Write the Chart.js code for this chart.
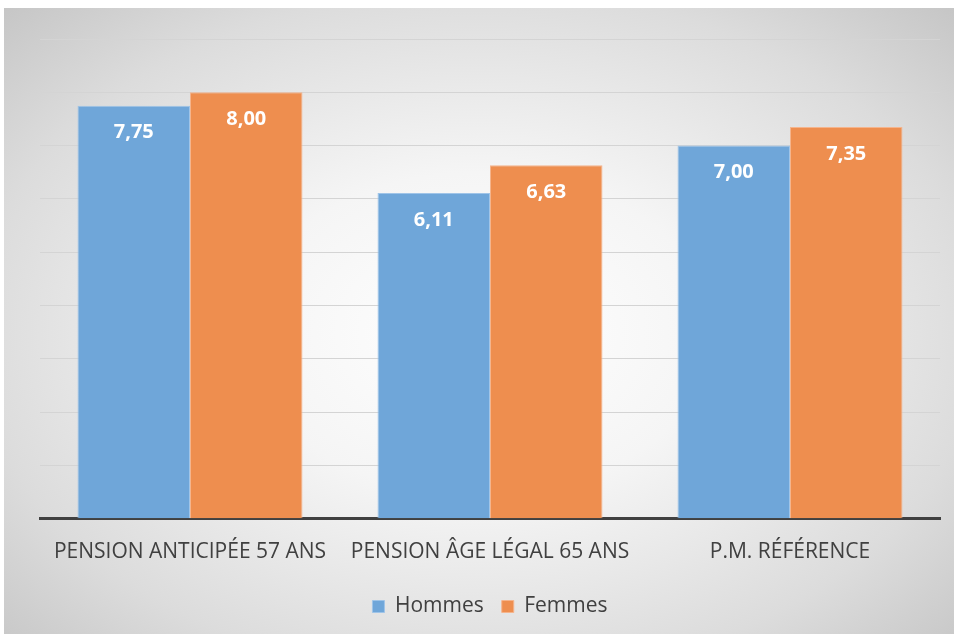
<html>
  <head>
    <meta charset="utf-8">
    <style>
      body { margin: 0; background: #fff; }
      #box {
        position: absolute; left: 4px; top: 8px; width: 950px; height: 626px;
        background: radial-gradient(ellipse farthest-corner at 50% 52%, #ffffff 0%, #f5f5f5 35%, #dcdcdc 75%, #c6c6c6 100%);
      }
    </style>
  </head>

  <body>
    <div id="box"><canvas id="myChart" width="950" height="626"></canvas></div>

    <script src="https://cdn.jsdelivr.net/npm/chart.js@4/dist/chart.umd.min.js"></script>
    <script>
      const categories = ['PENSION ANTICIPÉE 57 ANS', 'PENSION ÂGE LÉGAL 65 ANS', 'P.M. RÉFÉRENCE']
      const hommes = [7.75, 6.11, 7.0]
      const femmes = [8.0, 6.63, 7.35]
      const yTicks = [0, 1, 2, 3, 4, 5, 6, 7, 8, 9]

      const textFont = "'Open Sans', sans-serif"

      // white values written inside the top of each bar
      const valueLabels = {
        id: 'valueLabels',
        afterDatasetsDraw(chart) {
          const ctx = chart.ctx
          ctx.save()
          ctx.fillStyle = '#ffffff'
          ctx.font = "bold 20px 'Open Sans', sans-serif"
          ctx.textAlign = 'center'
          ctx.textBaseline = 'middle'
          chart.data.datasets.forEach((ds, i) => {
            chart.getDatasetMeta(i).data.forEach((bar, j) => {
              ctx.fillText(ds.data[j].toFixed(2).replace('.', ','), bar.x, bar.y + 27)
            })
          })
          ctx.restore()
        },
      }

      new Chart(document.getElementById('myChart'), {
        type: 'bar',
        data: {
          labels: categories,
          datasets: [
            {
              label: 'Hommes',
              data: hommes,
              backgroundColor: '#6fa6d9',
              borderColor: '#9fc4e8',
              borderWidth: 1,
            },
            {
              label: 'Femmes',
              data: femmes,
              backgroundColor: '#ee8e4f',
              borderColor: '#f5b48c',
              borderWidth: 1,
            },
          ],
        },
        options: {
          responsive: false,
          animation: false,
          categoryPercentage: 0.75,
          barPercentage: 1,
          layout: { padding: { left: 36, right: 14, top: 31, bottom: 7 } },
          scales: {
            x: {
              grid: { display: false },
              border: { color: '#404040', width: 3 },
              ticks: { color: '#404040', font: { family: textFont, size: 21 }, padding: 13, maxRotation: 0 },
            },
            y: {
              min: 0,
              max: yTicks[yTicks.length - 1],
              afterBuildTicks: (axis) => { axis.ticks = yTicks.map((v) => ({ value: v })) },
              grid: { color: '#d4d4d4', drawTicks: false },
              border: { display: false },
              ticks: { display: false },
            },
          },
          plugins: {
            legend: {
              position: 'bottom',
              labels: {
                color: '#404040',
                font: { family: textFont, size: 21 },
                boxWidth: 12,
                boxHeight: 12,
                padding: 18,
              },
            },
            tooltip: { enabled: false },
          },
        },
        plugins: [valueLabels],
      })
    </script>
  </body>
</html>
